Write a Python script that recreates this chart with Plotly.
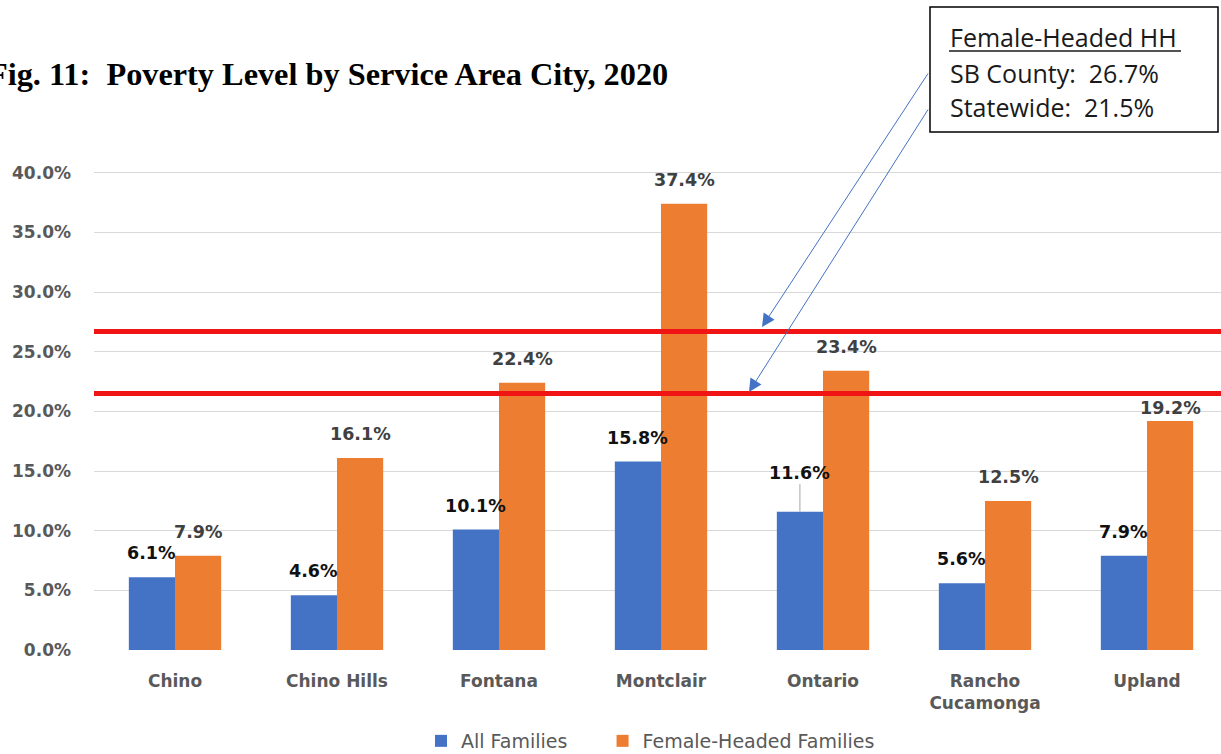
import plotly.graph_objects as go

# Poverty rates (%) by service area city, 2020
cities = ["Chino", "Chino Hills", "Fontana", "Montclair", "Ontario",
          "Rancho<br>Cucamonga", "Upland"]
all_families = [6.1, 4.6, 10.1, 15.8, 11.6, 5.6, 7.9]
female_headed = [7.9, 16.1, 22.4, 37.4, 23.4, 12.5, 19.2]

# Female-headed household benchmarks (%)
sb_county = 26.7
statewide = 21.5

y_ticks = [0, 5, 10, 15, 20, 25, 30, 35, 40]

BLUE = "#4472C4"
ORANGE = "#ED7D31"
GRAY = "#595959"

# Plot-area geometry in page pixels
FIG_W, FIG_H = 1221, 754
L, R, T, B = 94, 1221, 149, 650
W, H = R - L, B - T


def px(x):
    return (x - L) / W


def py(y):
    return (B - y) / H


BARGAP = 0.43
half = (1 - BARGAP) / 4

fig = go.Figure()
# trailing non-breaking spaces widen the gap between legend entries
fig.add_trace(go.Bar(name="All Families" + "\u00a0" * 5, x=cities, y=all_families,
                     marker=dict(color=BLUE, line=dict(width=0))))
fig.add_trace(go.Bar(name="Female-Headed Families", x=cities, y=female_headed,
                     marker=dict(color=ORANGE, line=dict(width=0))))

label_font = dict(family="DejaVu Sans", size=17.5, weight="bold")
annotations = []

# value labels above each bar
for i, (a, f) in enumerate(zip(all_families, female_headed)):
    if i == 4:
        # raised label with a leader line
        annotations.append(dict(
            x=i - half, y=a, xref="x", yref="y", text=f"{a:.1f}%",
            showarrow=True, arrowhead=0, arrowwidth=1, arrowcolor="#a6a6a6",
            ax=0, ay=-39, standoff=0,
            font=dict(label_font, color="#111111")))
    else:
        annotations.append(dict(
            x=i - half, y=a, xref="x", yref="y", text=f"{a:.1f}%",
            showarrow=False, yanchor="middle", yshift=24,
            font=dict(label_font, color="#111111")))
    annotations.append(dict(
        x=i + half, y=f, xref="x", yref="y", text=f"{f:.1f}%",
        showarrow=False, yanchor="middle", yshift=13 if i == 6 else 24,
        font=dict(label_font, color="#404040")))

# title
annotations.append(dict(
    x=px(-14), y=py(74), xref="paper", yref="paper", xanchor="left",
    yanchor="middle", showarrow=False,
    text="<b>Fig. 11:\u00a0\u00a0Poverty Level by Service Area City, 2020</b>",
    font=dict(family="Liberation Serif", size=32.3, color="#000000")))

# benchmark box text
box_font = dict(family="Open Sans", size=25, color="#1a1a1a")
for txt, yy in [("Female-Headed HH", 37),
                (f"SB County:\u00a0\u00a0{sb_county}%", 73),
                (f"Statewide:\u00a0\u00a0{statewide}%", 107)]:
    annotations.append(dict(
        x=px(948), y=py(yy), xref="paper", yref="paper", xanchor="left",
        yanchor="middle", showarrow=False, text=txt, font=box_font))

# pointer arrows from the box to the benchmark lines
for tip, tail in [((762, 327), (929, 72)), ((749, 392), (929, 108))]:
    annotations.append(dict(
        x=px(tip[0]), y=py(tip[1]), xref="paper", yref="paper",
        ax=tail[0] - tip[0], ay=tail[1] - tip[1], axref="pixel", ayref="pixel",
        text="", showarrow=True, arrowhead=2, arrowsize=2.6, arrowwidth=1,
        arrowcolor=BLUE, standoff=0))

shapes = [
    # benchmark lines
    dict(type="line", xref="paper", yref="y", x0=0, x1=1, y0=sb_county,
         y1=sb_county, line=dict(color="#f01414", width=5)),
    dict(type="line", xref="paper", yref="y", x0=0, x1=1, y0=statewide,
         y1=statewide, line=dict(color="#f01414", width=5)),
    # benchmark box
    dict(type="rect", xref="paper", yref="paper", x0=px(930), x1=px(1218),
         y0=py(132), y1=py(7), line=dict(color="#000000", width=1.5),
         fillcolor="white", layer="above"),
    # heading underline
    dict(type="line", xref="paper", yref="paper", x0=px(949), x1=px(1181),
         y0=py(51), y1=py(51), line=dict(color="#1a1a1a", width=1.3)),
]

fig.update_layout(
    width=FIG_W, height=FIG_H,
    margin=dict(l=L, r=FIG_W - R, t=T, b=FIG_H - B, pad=0, autoexpand=False),
    paper_bgcolor="white", plot_bgcolor="white",
    barmode="group", bargap=BARGAP, bargroupgap=0,
    showlegend=True,
    legend=dict(orientation="h", x=px(421), xanchor="left", y=py(741),
                yanchor="middle", xref="paper", yref="paper",
                font=dict(family="DejaVu Sans", size=19, color=GRAY),
                itemclick=False, traceorder="normal"),
    annotations=annotations,
    shapes=shapes,
    font=dict(family="DejaVu Sans"),
)

fig.update_xaxes(
    type="category", range=[-0.5, -0.5 + W / 162.0], showgrid=False,
    showline=False, zeroline=False, ticks="",
    tickfont=dict(family="DejaVu Sans", size=17, color=GRAY, weight="bold"),
    ticklabelstandoff=19,
)
fig.update_yaxes(
    range=[0, 42], tickvals=y_ticks, ticktext=[f"{v:.1f}%" for v in y_ticks],
    showgrid=True, gridcolor="#d9d9d9", gridwidth=1, zeroline=False,
    showline=False, ticks="",
    tickfont=dict(family="DejaVu Sans", size=17, color=GRAY, weight="bold"),
    ticklabelstandoff=22,
)

fig.write_html("out.html")
